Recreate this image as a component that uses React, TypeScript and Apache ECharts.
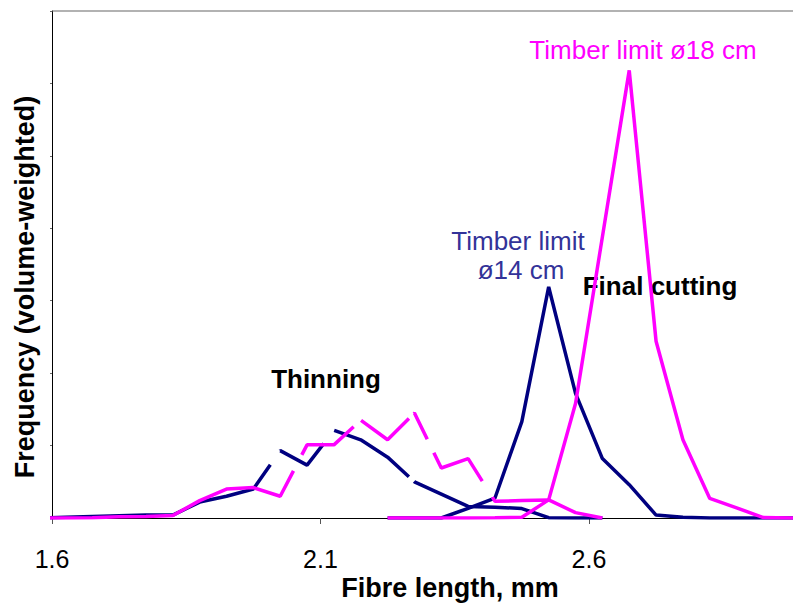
import React, { useEffect, useRef } from "react";
import * as echarts from "echarts";

// Bin centres (fibre length, mm)
const thinX = [1.575, 1.625, 1.675, 1.725, 1.775, 1.825, 1.875, 1.925, 1.975, 2.025, 2.075, 2.125, 2.175, 2.225, 2.275, 2.325, 2.375, 2.425, 2.475, 2.525, 2.575, 2.625];
const finalX = [2.225, 2.275, 2.325, 2.375, 2.425, 2.475, 2.525, 2.575, 2.625, 2.675, 2.725, 2.775, 2.825, 2.875, 2.925, 2.975, 3.025];

// Thinning
const thin14 = [0, 0.05, 0.1, 0.15, 0.2, 0.2, 1.1, 1.5, 2.0, 4.65, 3.65, 6.05, 5.4, 4.2, 2.5, 1.65, 0.8, 0.75, 0.65, 0.02, 0, 0];
const thin18 = [0, 0, 0.02, 0.08, 0.1, 0.17, 1.2, 2.0, 2.1, 1.5, 5.05, 5.05, 6.75, 5.4, 7.25, 3.45, 4.1, 1.15, 1.2, 1.25, 0.37, 0];

// Final cutting
const final14 = [0, 0, 0, 0.67, 1.38, 6.65, 15.95, 8.6, 4.1, 2.3, 0.2, 0.05, 0, 0, 0, 0, 0];
const final18 = [0, 0, 0, 0, 0.02, 0.05, 1.25, 7.9, 19.4, 30.9, 12.2, 5.4, 1.35, 0.7, 0.03, 0, 0];

const xTicks = [1.6, 2.1, 2.6];

const NAVY = "#000080";
const MAGENTA = "#FF00FF";
const FONT = "'Liberation Sans', Arial, sans-serif";

// dash patterns of the broken "Thinning" lines
const navyDash = [249, 17, 58, 17, 89, 7, 3000];
const magentaDash = [278, 18, 65, 10, 63, 7, 30, 15, 72, 19, 3000];

const pairs = (xs: number[], ys: number[]) => xs.map((x, i) => [x, ys[i]]);

export default function App() {
  const ref = useRef<HTMLDivElement>(null);
  useEffect(() => {
    if (!ref.current) return;
    const chart = echarts.init(ref.current, undefined, { renderer: "svg" });
    const xMin = 1.6;
    const xMax = 2.98;
    chart.setOption({
      animation: false,
      grid: {
        left: 52,
        top: 11,
        right: 0,
        bottom: 86,
        show: false,
      },
      xAxis: {
        type: "value",
        min: xMin,
        max: xMax,
        axisLine: { show: true, lineStyle: { color: "#000", width: 1 } },
        axisTick: { show: true, length: 6, customValues: xTicks, lineStyle: { color: "#555" } },
        axisLabel: {
          show: true,
          customValues: xTicks,
          margin: 28,
          fontSize: 25,
          fontFamily: FONT,
          color: "#000",
          formatter: (v: number) => v.toFixed(1),
        },
        splitLine: { show: false },
      },
      yAxis: {
        type: "value",
        min: 0,
        max: 35,
        interval: 5,
        axisLine: { show: true, lineStyle: { color: "#000", width: 1 } },
        axisTick: { show: true, length: 2, lineStyle: { color: "#666" } },
        axisLabel: { show: false },
        splitLine: { show: false },
      },
      series: [
        {
          name: "Thinning ø14",
          type: "line",
          data: pairs(thinX, thin14),
          symbol: "none",
          clip: true,
          lineStyle: { color: NAVY, width: 3.5, type: navyDash, cap: "butt" },
          z: 2,
        },
        {
          name: "Final cutting ø14",
          type: "line",
          data: pairs(finalX, final14),
          symbol: "none",
          clip: true,
          lineStyle: { color: NAVY, width: 3.5 },
          z: 2,
        },
        {
          name: "Thinning ø18",
          type: "line",
          data: pairs(thinX, thin18),
          symbol: "none",
          clip: true,
          lineStyle: { color: MAGENTA, width: 3.5, type: magentaDash, cap: "butt" },
          z: 3,
        },
        {
          name: "Final cutting ø18",
          type: "line",
          data: pairs(finalX, final18),
          symbol: "none",
          clip: true,
          lineStyle: { color: MAGENTA, width: 3.5 },
          z: 3,
        },
      ],
      graphic: [
        {
          type: "rect",
          left: 52,
          top: 10.5,
          shape: { width: 741, height: 1 },
          style: { fill: "#666" },
          z: 10,
        },
        {
          type: "text",
          x: 643,
          y: 50,
          style: { text: "Timber limit ø18 cm", fill: MAGENTA, font: `26px ${FONT}`, textAlign: "center", textVerticalAlign: "middle" },
        },
        {
          type: "text",
          x: 518,
          y: 241,
          style: { text: "Timber limit", fill: "#333399", font: `26px ${FONT}`, textAlign: "center", textVerticalAlign: "middle" },
        },
        {
          type: "text",
          x: 521,
          y: 270,
          style: { text: "ø14 cm", fill: "#333399", font: `26px ${FONT}`, textAlign: "center", textVerticalAlign: "middle" },
        },
        {
          type: "text",
          x: 660,
          y: 286,
          style: { text: "Final cutting", fill: "#000", font: `bold 26px ${FONT}`, textAlign: "center", textVerticalAlign: "middle" },
        },
        {
          type: "text",
          x: 326,
          y: 379,
          style: { text: "Thinning", fill: "#000", font: `bold 26px ${FONT}`, textAlign: "center", textVerticalAlign: "middle" },
        },
        {
          type: "text",
          x: 450,
          y: 588,
          style: { text: "Fibre length, mm", fill: "#000", font: `bold 27px ${FONT}`, textAlign: "center", textVerticalAlign: "middle" },
        },
        {
          type: "text",
          x: 25,
          y: 287,
          rotation: Math.PI / 2,
          style: { text: "Frequency (volume-weighted)", fill: "#000", font: `bold 27px ${FONT}`, textAlign: "center", textVerticalAlign: "middle" },
        },
      ],
    });
    return () => chart.dispose();
  }, []);
  return (
    <div
      ref={ref}
      style={{ position: "fixed", left: 0, top: 0, width: 793, height: 604, background: "#fff" }}
    />
  );
}
